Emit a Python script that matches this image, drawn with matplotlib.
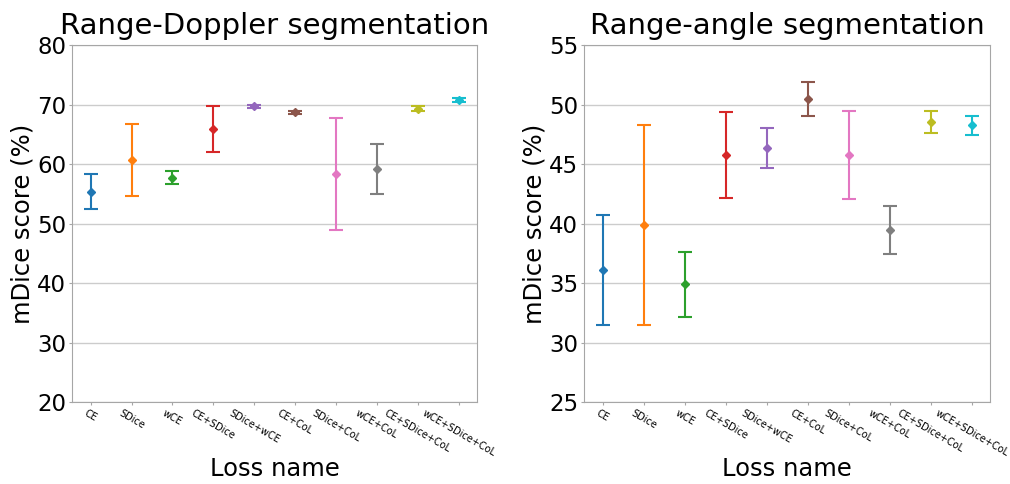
import matplotlib
matplotlib.use("Agg")
import matplotlib.pyplot as plt
import numpy as np

loss_names = ["CE", "SDice", "wCE", "CE+SDice", "SDice+wCE", "CE+CoL",
              "SDice+CoL", "wCE+CoL", "CE+SDice+CoL", "wCE+SDice+CoL"]

rd_mean = [55.4, 60.7, 57.7, 65.85, 69.7, 68.7, 58.4, 59.2, 69.3, 70.75]
rd_std = [3.0, 6.0, 1.1, 3.9, 0.3, 0.25, 9.4, 4.2, 0.4, 0.3]

ra_mean = [36.1, 39.9, 34.9, 45.75, 46.35, 50.45, 45.75, 39.45, 48.55, 48.25]
ra_std = [4.6, 8.4, 2.7, 3.6, 1.7, 1.43, 3.7, 2.0, 0.93, 0.83]

colors = plt.rcParams["axes.prop_cycle"].by_key()["color"]

fig = plt.figure(figsize=(10.1, 4.84), dpi=100)
ax1 = fig.add_axes([0.0716, 0.1688, 0.4007, 0.7382])
ax2 = fig.add_axes([0.5785, 0.1688, 0.4017, 0.7382])


def draw(ax, means, stds, title, ylim, yticks):
    x = np.arange(len(loss_names))
    for i in range(len(loss_names)):
        ax.errorbar(x[i], means[i], yerr=stds[i], fmt="D", color=colors[i % 10],
                    markersize=4, capsize=5, elinewidth=1.5, capthick=1.5)
    ax.set_xticks(x)
    ax.set_xticklabels(loss_names, rotation=-30, ha="center", fontsize=7)
    ax.set_ylim(*ylim)
    ax.set_yticks(yticks)
    ax.tick_params(axis="y", labelsize=16.5, length=2.5, color="0.65", pad=2)
    ax.tick_params(axis="x", length=2.5, color="0.65", pad=1.5)
    ax.yaxis.grid(True, color="0.8", linewidth=1)
    ax.set_axisbelow(True)
    for s in ax.spines.values():
        s.set_color("0.65")
    ax.set_title(title, fontsize=21, pad=8)
    ax.set_xlabel("Loss name", fontsize=17.5, labelpad=-1)
    ax.set_ylabel("mDice score (%)", fontsize=17.5, labelpad=2)


draw(ax1, rd_mean, rd_std, "Range-Doppler segmentation", (20, 80), range(20, 81, 10))
draw(ax2, ra_mean, ra_std, "Range-angle segmentation", (25, 55), range(25, 56, 5))

fig.savefig("out.png", dpi=100)
